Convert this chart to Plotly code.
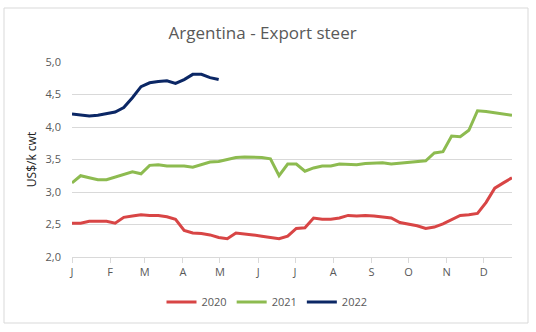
import plotly.graph_objects as go

weeks = list(range(52))
y2020 = [2.52, 2.52, 2.55, 2.55, 2.55, 2.52, 2.61, 2.63, 2.65, 2.64, 2.64, 2.62, 2.58, 2.41,
         2.37, 2.36, 2.34, 2.30, 2.28, 2.37, 2.36, 2.34, 2.32, 2.30, 2.28, 2.32, 2.44, 2.45,
         2.60, 2.58, 2.58, 2.60, 2.64, 2.63, 2.64, 2.63, 2.62, 2.60, 2.53, 2.51, 2.48, 2.44,
         2.46, 2.51, 2.57, 2.64, 2.65, 2.67, 2.84, 3.06, 3.14, 3.22]
y2021 = [3.14, 3.25, 3.22, 3.19, 3.19, 3.23, 3.27, 3.31, 3.28, 3.41, 3.42, 3.40, 3.40, 3.40,
         3.38, 3.42, 3.46, 3.47, 3.50, 3.53, 3.54, 3.54, 3.53, 3.51, 3.25, 3.43, 3.43, 3.32,
         3.37, 3.40, 3.40, 3.43, 3.43, 3.42, 3.44, 3.45, 3.45, 3.43, 3.44, 3.46, 3.47, 3.48,
         3.60, 3.62, 3.86, 3.85, 3.95, 4.25, 4.24, 4.22, 4.20, 4.18]
y2022 = [4.20, 4.18, 4.17, 4.18, 4.20, 4.23, 4.30, 4.45, 4.62, 4.68, 4.70, 4.71, 4.67, 4.73,
         4.81, 4.81, 4.76, 4.73]
month_labels = ["J", "F", "M", "A", "M", "J", "J", "A", "S", "O", "N", "D"]
month_start_days = [0, 31, 59, 90, 120, 151, 181, 212, 243, 273, 304, 334]
y_ticks = [2.0, 2.5, 3.0, 3.5, 4.0, 4.5, 5.0]
y_tick_text = ["2,0", "2,5", "3,0", "3,5", "4,0", "4,5", "5,0"]

fig = go.Figure()
series = [("2020", y2020, "#d84545"), ("2021", y2021, "#8dbb50"), ("2022", y2022, "#0b2765")]
for name, vals, col in series:
    fig.add_trace(go.Scatter(x=weeks[:len(vals)], y=vals, mode="lines", name=name,
                             line=dict(color=col, width=3)))

grey = "#595959"
fig.update_layout(
    width=536, height=332,
    margin=dict(l=72, r=24, t=62, b=75),
    paper_bgcolor="white", plot_bgcolor="white",
    font=dict(family="Open Sans, sans-serif", color=grey, size=11),
    title=dict(text="Argentina - Export steer", x=0.49, xanchor="center", y=1 - 33 / 332,
               yanchor="middle", font=dict(size=17, color=grey)),
    legend=dict(orientation="h", x=(267 - 72) / 440, xanchor="center", y=-0.231, yanchor="middle",
                font=dict(size=11, color=grey), itemwidth=30, tracegroupgap=0),
    showlegend=True,
)
fig.update_xaxes(range=[0, 51], tickmode="array",
                 tickvals=[d / 7 for d in month_start_days], ticktext=month_labels,
                 showgrid=False, showline=True, linecolor="#d9d9d9", linewidth=1,
                 ticks="outside", ticklen=5, tickcolor="#d9d9d9", zeroline=False,
                 tickfont=dict(size=11, color=grey))
fig.update_yaxes(range=[2, 5], tickmode="array", tickvals=y_ticks, ticktext=y_tick_text,
                 showgrid=True, gridcolor="#d9d9d9", gridwidth=1, zeroline=False,
                 showline=False, ticks="", ticklabelstandoff=10,
                 tickfont=dict(size=11, color=grey),
                 title=dict(text="US$/k cwt", font=dict(size=12, color="#222222"), standoff=6))
fig.add_shape(type="rect", xref="paper", yref="paper",
              x0=(4 - 72) / 440, x1=(528 - 72) / 440, y0=(257 - 323) / 195, y1=(257 - 8) / 195,
              line=dict(color="#d9d9d9", width=1), fillcolor="rgba(0,0,0,0)", layer="below")
fig.write_html("out.html")
